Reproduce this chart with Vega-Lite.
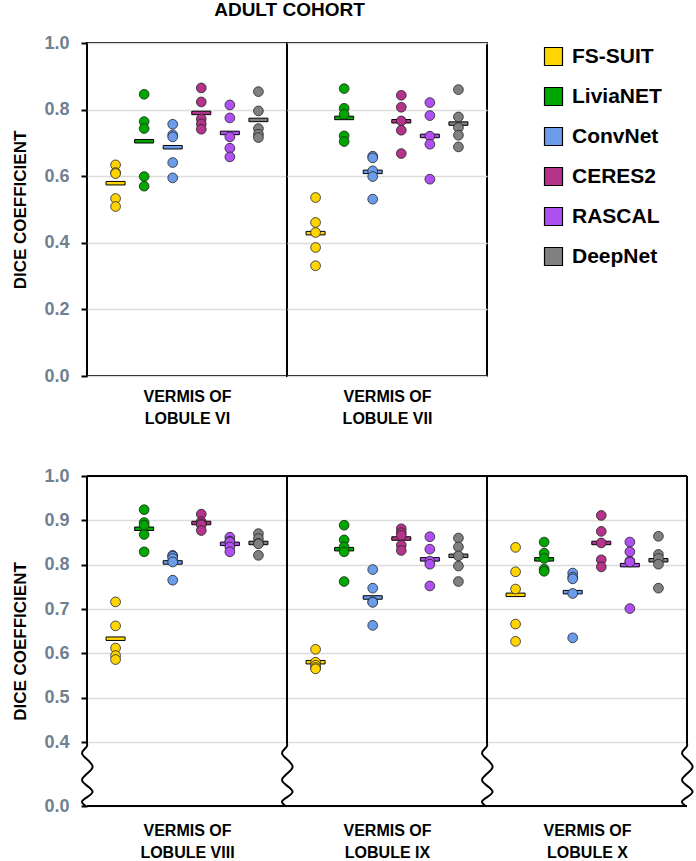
{
  "$schema": "https://vega.github.io/schema/vega-lite/v6.json",
  "padding": {"left": 10, "top": 1, "right": 5, "bottom": 3},
  "config": {
    "font": "Liberation Sans",
    "view": {"stroke": null},
    "axis": {"gridColor": "#dcdcdc", "gridWidth": 1.5, "domainColor": "black", "domainWidth": 2, "tickColor": "black", "tickWidth": 2, "labelFont": "Liberation Sans", "titleFont": "Liberation Sans"},
    "legend": {"labelFont": "Liberation Sans"},
    "title": {"font": "Liberation Sans"}
  },
  "datasets": {
    "pts": [
      {"region": "VI", "model": "FS-SUIT", "dice": 0.634}, {"region": "VI", "model": "FS-SUIT", "dice": 0.611}, {"region": "VI", "model": "FS-SUIT", "dice": 0.608}, {"region": "VI", "model": "FS-SUIT", "dice": 0.533}, {"region": "VI", "model": "FS-SUIT", "dice": 0.509},
      {"region": "VI", "model": "LiviaNET", "dice": 0.846}, {"region": "VI", "model": "LiviaNET", "dice": 0.764}, {"region": "VI", "model": "LiviaNET", "dice": 0.743}, {"region": "VI", "model": "LiviaNET", "dice": 0.599}, {"region": "VI", "model": "LiviaNET", "dice": 0.570},
      {"region": "VI", "model": "ConvNet", "dice": 0.756}, {"region": "VI", "model": "ConvNet", "dice": 0.724}, {"region": "VI", "model": "ConvNet", "dice": 0.718}, {"region": "VI", "model": "ConvNet", "dice": 0.641}, {"region": "VI", "model": "ConvNet", "dice": 0.595},
      {"region": "VI", "model": "CERES2", "dice": 0.865}, {"region": "VI", "model": "CERES2", "dice": 0.823}, {"region": "VI", "model": "CERES2", "dice": 0.772}, {"region": "VI", "model": "CERES2", "dice": 0.757}, {"region": "VI", "model": "CERES2", "dice": 0.741},
      {"region": "VI", "model": "RASCAL", "dice": 0.814}, {"region": "VI", "model": "RASCAL", "dice": 0.775}, {"region": "VI", "model": "RASCAL", "dice": 0.718}, {"region": "VI", "model": "RASCAL", "dice": 0.684}, {"region": "VI", "model": "RASCAL", "dice": 0.658},
      {"region": "VI", "model": "DeepNet", "dice": 0.854}, {"region": "VI", "model": "DeepNet", "dice": 0.796}, {"region": "VI", "model": "DeepNet", "dice": 0.743}, {"region": "VI", "model": "DeepNet", "dice": 0.726}, {"region": "VI", "model": "DeepNet", "dice": 0.716},
      {"region": "VII", "model": "FS-SUIT", "dice": 0.536}, {"region": "VII", "model": "FS-SUIT", "dice": 0.461}, {"region": "VII", "model": "FS-SUIT", "dice": 0.431}, {"region": "VII", "model": "FS-SUIT", "dice": 0.386}, {"region": "VII", "model": "FS-SUIT", "dice": 0.331},
      {"region": "VII", "model": "LiviaNET", "dice": 0.863}, {"region": "VII", "model": "LiviaNET", "dice": 0.804}, {"region": "VII", "model": "LiviaNET", "dice": 0.786}, {"region": "VII", "model": "LiviaNET", "dice": 0.721}, {"region": "VII", "model": "LiviaNET", "dice": 0.704},
      {"region": "VII", "model": "ConvNet", "dice": 0.660}, {"region": "VII", "model": "ConvNet", "dice": 0.655}, {"region": "VII", "model": "ConvNet", "dice": 0.616}, {"region": "VII", "model": "ConvNet", "dice": 0.599}, {"region": "VII", "model": "ConvNet", "dice": 0.531},
      {"region": "VII", "model": "CERES2", "dice": 0.843}, {"region": "VII", "model": "CERES2", "dice": 0.807}, {"region": "VII", "model": "CERES2", "dice": 0.766}, {"region": "VII", "model": "CERES2", "dice": 0.738}, {"region": "VII", "model": "CERES2", "dice": 0.668},
      {"region": "VII", "model": "RASCAL", "dice": 0.821}, {"region": "VII", "model": "RASCAL", "dice": 0.782}, {"region": "VII", "model": "RASCAL", "dice": 0.720}, {"region": "VII", "model": "RASCAL", "dice": 0.696}, {"region": "VII", "model": "RASCAL", "dice": 0.591},
      {"region": "VII", "model": "DeepNet", "dice": 0.860}, {"region": "VII", "model": "DeepNet", "dice": 0.778}, {"region": "VII", "model": "DeepNet", "dice": 0.746}, {"region": "VII", "model": "DeepNet", "dice": 0.723}, {"region": "VII", "model": "DeepNet", "dice": 0.688},
      {"region": "VIII", "model": "FS-SUIT", "dice": 0.716}, {"region": "VIII", "model": "FS-SUIT", "dice": 0.662}, {"region": "VIII", "model": "FS-SUIT", "dice": 0.612}, {"region": "VIII", "model": "FS-SUIT", "dice": 0.595}, {"region": "VIII", "model": "FS-SUIT", "dice": 0.586},
      {"region": "VIII", "model": "LiviaNET", "dice": 0.924}, {"region": "VIII", "model": "LiviaNET", "dice": 0.895}, {"region": "VIII", "model": "LiviaNET", "dice": 0.889}, {"region": "VIII", "model": "LiviaNET", "dice": 0.868}, {"region": "VIII", "model": "LiviaNET", "dice": 0.829},
      {"region": "VIII", "model": "ConvNet", "dice": 0.821}, {"region": "VIII", "model": "ConvNet", "dice": 0.819}, {"region": "VIII", "model": "ConvNet", "dice": 0.814}, {"region": "VIII", "model": "ConvNet", "dice": 0.806}, {"region": "VIII", "model": "ConvNet", "dice": 0.765},
      {"region": "VIII", "model": "CERES2", "dice": 0.914}, {"region": "VIII", "model": "CERES2", "dice": 0.897}, {"region": "VIII", "model": "CERES2", "dice": 0.892}, {"region": "VIII", "model": "CERES2", "dice": 0.890}, {"region": "VIII", "model": "CERES2", "dice": 0.877},
      {"region": "VIII", "model": "RASCAL", "dice": 0.862}, {"region": "VIII", "model": "RASCAL", "dice": 0.853}, {"region": "VIII", "model": "RASCAL", "dice": 0.851}, {"region": "VIII", "model": "RASCAL", "dice": 0.840}, {"region": "VIII", "model": "RASCAL", "dice": 0.829},
      {"region": "VIII", "model": "DeepNet", "dice": 0.870}, {"region": "VIII", "model": "DeepNet", "dice": 0.859}, {"region": "VIII", "model": "DeepNet", "dice": 0.848}, {"region": "VIII", "model": "DeepNet", "dice": 0.847}, {"region": "VIII", "model": "DeepNet", "dice": 0.821},
      {"region": "IX", "model": "FS-SUIT", "dice": 0.609}, {"region": "IX", "model": "FS-SUIT", "dice": 0.580}, {"region": "IX", "model": "FS-SUIT", "dice": 0.573}, {"region": "IX", "model": "FS-SUIT", "dice": 0.568}, {"region": "IX", "model": "FS-SUIT", "dice": 0.565},
      {"region": "IX", "model": "LiviaNET", "dice": 0.889}, {"region": "IX", "model": "LiviaNET", "dice": 0.856}, {"region": "IX", "model": "LiviaNET", "dice": 0.840}, {"region": "IX", "model": "LiviaNET", "dice": 0.829}, {"region": "IX", "model": "LiviaNET", "dice": 0.762},
      {"region": "IX", "model": "ConvNet", "dice": 0.789}, {"region": "IX", "model": "ConvNet", "dice": 0.747}, {"region": "IX", "model": "ConvNet", "dice": 0.716}, {"region": "IX", "model": "ConvNet", "dice": 0.715}, {"region": "IX", "model": "ConvNet", "dice": 0.663},
      {"region": "IX", "model": "CERES2", "dice": 0.881}, {"region": "IX", "model": "CERES2", "dice": 0.872}, {"region": "IX", "model": "CERES2", "dice": 0.866}, {"region": "IX", "model": "CERES2", "dice": 0.844}, {"region": "IX", "model": "CERES2", "dice": 0.832},
      {"region": "IX", "model": "RASCAL", "dice": 0.863}, {"region": "IX", "model": "RASCAL", "dice": 0.835}, {"region": "IX", "model": "RASCAL", "dice": 0.808}, {"region": "IX", "model": "RASCAL", "dice": 0.801}, {"region": "IX", "model": "RASCAL", "dice": 0.752},
      {"region": "IX", "model": "DeepNet", "dice": 0.860}, {"region": "IX", "model": "DeepNet", "dice": 0.840}, {"region": "IX", "model": "DeepNet", "dice": 0.820}, {"region": "IX", "model": "DeepNet", "dice": 0.797}, {"region": "IX", "model": "DeepNet", "dice": 0.762},
      {"region": "X", "model": "FS-SUIT", "dice": 0.839}, {"region": "X", "model": "FS-SUIT", "dice": 0.784}, {"region": "X", "model": "FS-SUIT", "dice": 0.745}, {"region": "X", "model": "FS-SUIT", "dice": 0.666}, {"region": "X", "model": "FS-SUIT", "dice": 0.627},
      {"region": "X", "model": "LiviaNET", "dice": 0.851}, {"region": "X", "model": "LiviaNET", "dice": 0.826}, {"region": "X", "model": "LiviaNET", "dice": 0.814}, {"region": "X", "model": "LiviaNET", "dice": 0.790}, {"region": "X", "model": "LiviaNET", "dice": 0.785},
      {"region": "X", "model": "ConvNet", "dice": 0.781}, {"region": "X", "model": "ConvNet", "dice": 0.772}, {"region": "X", "model": "ConvNet", "dice": 0.768}, {"region": "X", "model": "ConvNet", "dice": 0.735}, {"region": "X", "model": "ConvNet", "dice": 0.635},
      {"region": "X", "model": "CERES2", "dice": 0.911}, {"region": "X", "model": "CERES2", "dice": 0.875}, {"region": "X", "model": "CERES2", "dice": 0.849}, {"region": "X", "model": "CERES2", "dice": 0.811}, {"region": "X", "model": "CERES2", "dice": 0.795},
      {"region": "X", "model": "RASCAL", "dice": 0.851}, {"region": "X", "model": "RASCAL", "dice": 0.829}, {"region": "X", "model": "RASCAL", "dice": 0.808}, {"region": "X", "model": "RASCAL", "dice": 0.806}, {"region": "X", "model": "RASCAL", "dice": 0.701},
      {"region": "X", "model": "DeepNet", "dice": 0.864}, {"region": "X", "model": "DeepNet", "dice": 0.823}, {"region": "X", "model": "DeepNet", "dice": 0.814}, {"region": "X", "model": "DeepNet", "dice": 0.801}, {"region": "X", "model": "DeepNet", "dice": 0.747}
    ],
    "means": [
      {"region": "VI", "model": "FS-SUIT", "mean": 0.579}, {"region": "VI", "model": "LiviaNET", "mean": 0.705}, {"region": "VI", "model": "ConvNet", "mean": 0.687}, {"region": "VI", "model": "CERES2", "mean": 0.790}, {"region": "VI", "model": "RASCAL", "mean": 0.730}, {"region": "VI", "model": "DeepNet", "mean": 0.769},
      {"region": "VII", "model": "FS-SUIT", "mean": 0.429}, {"region": "VII", "model": "LiviaNET", "mean": 0.775}, {"region": "VII", "model": "ConvNet", "mean": 0.613}, {"region": "VII", "model": "CERES2", "mean": 0.765}, {"region": "VII", "model": "RASCAL", "mean": 0.721}, {"region": "VII", "model": "DeepNet", "mean": 0.758},
      {"region": "VIII", "model": "FS-SUIT", "mean": 0.633}, {"region": "VIII", "model": "LiviaNET", "mean": 0.881}, {"region": "VIII", "model": "ConvNet", "mean": 0.805}, {"region": "VIII", "model": "CERES2", "mean": 0.894}, {"region": "VIII", "model": "RASCAL", "mean": 0.847}, {"region": "VIII", "model": "DeepNet", "mean": 0.849},
      {"region": "IX", "model": "FS-SUIT", "mean": 0.580}, {"region": "IX", "model": "LiviaNET", "mean": 0.835}, {"region": "IX", "model": "ConvNet", "mean": 0.726}, {"region": "IX", "model": "CERES2", "mean": 0.859}, {"region": "IX", "model": "RASCAL", "mean": 0.812}, {"region": "IX", "model": "DeepNet", "mean": 0.820},
      {"region": "X", "model": "FS-SUIT", "mean": 0.732}, {"region": "X", "model": "LiviaNET", "mean": 0.812}, {"region": "X", "model": "ConvNet", "mean": 0.738}, {"region": "X", "model": "CERES2", "mean": 0.849}, {"region": "X", "model": "RASCAL", "mean": 0.799}, {"region": "X", "model": "DeepNet", "mean": 0.810}
    ],
    "wave": [
      {"side": "L", "i": 0, "xw": 0, "yv": 1.0}, {"side": "L", "i": 1, "xw": 0, "yv": 0.6}, {"side": "L", "i": 2, "xw": 0, "yv": 0.4}, {"side": "L", "i": 3, "xw": 0, "yv": 0.375}, {"side": "L", "i": 4, "xw": -0.025, "yv": 0.33}, {"side": "L", "i": 5, "xw": 0.028, "yv": 0.246}, {"side": "L", "i": 6, "xw": -0.025, "yv": 0.1625}, {"side": "L", "i": 7, "xw": 0.028, "yv": 0.089}, {"side": "L", "i": 8, "xw": -0.025, "yv": 0.027}, {"side": "L", "i": 9, "xw": -0.007, "yv": 0},
      {"side": "R", "i": 0, "xw": 1, "yv": 1.0}, {"side": "R", "i": 1, "xw": 1, "yv": 0.6}, {"side": "R", "i": 2, "xw": 1, "yv": 0.4}, {"side": "R", "i": 3, "xw": 1, "yv": 0.375}, {"side": "R", "i": 4, "xw": 0.975, "yv": 0.33}, {"side": "R", "i": 5, "xw": 1.028, "yv": 0.246}, {"side": "R", "i": 6, "xw": 0.975, "yv": 0.1625}, {"side": "R", "i": 7, "xw": 1.028, "yv": 0.089}, {"side": "R", "i": 8, "xw": 0.975, "yv": 0.027}, {"side": "R", "i": 9, "xw": 0.993, "yv": 0}
    ]
  },
  "vconcat": [
    {
      "hconcat": [
        {
          "width": 200, "height": 333,
          "view": {"stroke": "black", "strokeWidth": 2},
          "layer": [
            {"data": {"name": "means"}, "transform": [{"filter": "datum.region == 'VI'"}],
             "mark": {"type": "tick", "thickness": 3.5, "size": 19, "stroke": "black", "strokeWidth": 1, "opacity": 1, "filled": true},
             "encoding": {
               "x": {"field": "model", "type": "nominal", "scale": {"type": "point", "padding": 1.23, "domain": ["FS-SUIT", "LiviaNET", "ConvNet", "CERES2", "RASCAL", "DeepNet"]}, "axis": {"labels": false, "ticks": false, "domain": false, "grid": false, "title": ["VERMIS OF", "LOBULE VI"], "titleFontSize": 16, "titleFontWeight": "bold", "titleColor": "black", "titlePadding": 12, "titleLineHeight": 22}},
               "y": {"field": "mean", "type": "quantitative", "scale": {"domain": [0, 1], "nice": false}, "axis": {"values": [0, 0.2, 0.4, 0.6, 0.8, 1.0], "format": ".1f", "grid": true, "domain": false, "ticks": true, "tickSize": 6, "labelPadding": 12, "labelFontSize": 18, "labelFontWeight": "bold", "labelColor": "#708090", "labelFlush": false, "title": "DICE COEFFICIENT", "titleFontSize": 17, "titleFontWeight": "bold", "titleColor": "black", "titlePadding": 14}},
               "color": {"field": "model", "type": "nominal", "scale": {"domain": ["FS-SUIT", "LiviaNET", "ConvNet", "CERES2", "RASCAL", "DeepNet"], "range": ["#FFD400", "#00A600", "#6C9BEA", "#B3348A", "#B050F2", "#808080"]}}
             }},
            {"data": {"name": "pts"}, "transform": [{"filter": "datum.region == 'VI'"}],
             "mark": {"type": "circle", "size": 95, "stroke": "#222222", "strokeWidth": 0.8, "opacity": 1},
             "encoding": {
               "x": {"field": "model", "type": "nominal"},
               "y": {"field": "dice", "type": "quantitative"},
               "color": {"field": "model", "type": "nominal", "legend": {"orient": "none", "legendX": 456, "legendY": 3, "title": null, "symbolType": "square", "symbolSize": 324, "symbolStrokeColor": "black", "symbolStrokeWidth": 1.2, "symbolOpacity": 1, "labelFontSize": 21, "labelFontWeight": "bold", "labelColor": "black", "labelOffset": 8, "rowPadding": 17}}
             }}
          ]
        },
        {
          "width": 200, "height": 333,
          "view": {"stroke": "black", "strokeWidth": 2},
          "layer": [
            {"data": {"name": "means"}, "transform": [{"filter": "datum.region == 'VII'"}],
             "mark": {"type": "tick", "thickness": 3.5, "size": 19, "stroke": "black", "strokeWidth": 1, "opacity": 1, "filled": true},
             "encoding": {
               "x": {"field": "model", "type": "nominal", "scale": {"type": "point", "padding": 1.23, "domain": ["FS-SUIT", "LiviaNET", "ConvNet", "CERES2", "RASCAL", "DeepNet"]}, "axis": {"labels": false, "ticks": false, "domain": false, "grid": false, "title": ["VERMIS OF", "LOBULE VII"], "titleFontSize": 16, "titleFontWeight": "bold", "titleColor": "black", "titlePadding": 12, "titleLineHeight": 22}},
               "y": {"field": "mean", "type": "quantitative", "scale": {"domain": [0, 1], "nice": false}, "axis": {"values": [0, 0.2, 0.4, 0.6, 0.8, 1.0], "grid": true, "domain": false, "ticks": false, "labels": false, "title": null}},
               "color": {"field": "model", "type": "nominal"}
             }},
            {"data": {"name": "pts"}, "transform": [{"filter": "datum.region == 'VII'"}],
             "mark": {"type": "circle", "size": 95, "stroke": "#222222", "strokeWidth": 0.8, "opacity": 1},
             "encoding": {
               "x": {"field": "model", "type": "nominal"},
               "y": {"field": "dice", "type": "quantitative"},
               "color": {"field": "model", "type": "nominal"}
             }}
          ]
        }
      ],
      "spacing": 0,
      "bounds": "flush",
      "title": {"text": "ADULT COHORT", "fontSize": 19, "fontWeight": "bold", "color": "black", "anchor": "middle", "dx": 40, "offset": 13}
    },
    {
      "hconcat": [
        {
          "width": 200, "height": 330,
          "layer": [
            {"data": {"name": "means"}, "transform": [{"filter": "datum.region == 'VIII'"}],
             "mark": {"type": "tick", "thickness": 3.5, "size": 19, "stroke": "black", "strokeWidth": 1, "opacity": 1, "filled": true},
             "encoding": {
               "x": {"field": "model", "type": "nominal", "scale": {"type": "point", "padding": 1.23, "domain": ["FS-SUIT", "LiviaNET", "ConvNet", "CERES2", "RASCAL", "DeepNet"]}, "axis": {"labels": false, "ticks": false, "domain": false, "grid": false, "title": ["VERMIS OF", "LOBULE VIII"], "titleFontSize": 16, "titleFontWeight": "bold", "titleColor": "black", "titlePadding": 16, "titleLineHeight": 22}},
               "y": {"field": "mean", "type": "quantitative", "scale": {"domain": [0, 0.4, 1], "range": [330, 266, 0], "nice": false, "zero": false}, "axis": {"values": [0, 0.4, 0.5, 0.6, 0.7, 0.8, 0.9, 1.0], "format": ".1f", "grid": true, "domain": false, "ticks": true, "tickSize": 6, "labelPadding": 12, "labelFontSize": 18, "labelFontWeight": "bold", "labelColor": "#708090", "labelFlush": false, "title": "DICE COEFFICIENT", "titleFontSize": 17, "titleFontWeight": "bold", "titleColor": "black", "titlePadding": 14}},
               "color": {"field": "model", "type": "nominal"}
             }},
            {"data": {"name": "pts"}, "transform": [{"filter": "datum.region == 'VIII'"}],
             "mark": {"type": "circle", "size": 95, "stroke": "#222222", "strokeWidth": 0.8, "opacity": 1},
             "encoding": {
               "x": {"field": "model", "type": "nominal", "scale": {"type": "point", "padding": 1.23, "domain": ["FS-SUIT", "LiviaNET", "ConvNet", "CERES2", "RASCAL", "DeepNet"]}, "axis": null},
               "y": {"field": "dice", "type": "quantitative"},
               "color": {"field": "model", "type": "nominal"}
             }},
            {"data": {"name": "means"}, "mark": {"type": "rule", "stroke": "black", "strokeWidth": 2}, "encoding": {"y": {"datum": 1}}},
            {"data": {"name": "means"}, "mark": {"type": "rule", "stroke": "black", "strokeWidth": 2}, "encoding": {"y": {"datum": 0}}},
            {"data": {"name": "wave"}, "transform": [{"filter": "datum.side == 'L'"}],
             "mark": {"type": "line", "stroke": "black", "strokeWidth": 2, "interpolate": "catmull-rom"},
             "encoding": {
               "x": {"field": "xw", "type": "quantitative", "scale": {"domain": [0, 1], "nice": false, "zero": false}, "axis": null},
               "y": {"field": "yv", "type": "quantitative"},
               "order": {"field": "i", "type": "quantitative"},
               "detail": {"field": "side", "type": "nominal"}
             }}
          ],
          "resolve": {"scale": {"x": "independent"}}
        },
        {
          "width": 200, "height": 330,
          "layer": [
            {"data": {"name": "means"}, "transform": [{"filter": "datum.region == 'IX'"}],
             "mark": {"type": "tick", "thickness": 3.5, "size": 19, "stroke": "black", "strokeWidth": 1, "opacity": 1, "filled": true},
             "encoding": {
               "x": {"field": "model", "type": "nominal", "scale": {"type": "point", "padding": 1.23, "domain": ["FS-SUIT", "LiviaNET", "ConvNet", "CERES2", "RASCAL", "DeepNet"]}, "axis": {"labels": false, "ticks": false, "domain": false, "grid": false, "title": ["VERMIS OF", "LOBULE IX"], "titleFontSize": 16, "titleFontWeight": "bold", "titleColor": "black", "titlePadding": 16, "titleLineHeight": 22}},
               "y": {"field": "mean", "type": "quantitative", "scale": {"domain": [0, 0.4, 1], "range": [330, 266, 0], "nice": false, "zero": false}, "axis": {"values": [0, 0.4, 0.5, 0.6, 0.7, 0.8, 0.9, 1.0], "grid": true, "domain": false, "ticks": false, "labels": false, "title": null}},
               "color": {"field": "model", "type": "nominal"}
             }},
            {"data": {"name": "pts"}, "transform": [{"filter": "datum.region == 'IX'"}],
             "mark": {"type": "circle", "size": 95, "stroke": "#222222", "strokeWidth": 0.8, "opacity": 1},
             "encoding": {
               "x": {"field": "model", "type": "nominal", "scale": {"type": "point", "padding": 1.23, "domain": ["FS-SUIT", "LiviaNET", "ConvNet", "CERES2", "RASCAL", "DeepNet"]}, "axis": null},
               "y": {"field": "dice", "type": "quantitative"},
               "color": {"field": "model", "type": "nominal"}
             }},
            {"data": {"name": "means"}, "mark": {"type": "rule", "stroke": "black", "strokeWidth": 2}, "encoding": {"y": {"datum": 1}}},
            {"data": {"name": "means"}, "mark": {"type": "rule", "stroke": "black", "strokeWidth": 2}, "encoding": {"y": {"datum": 0}}},
            {"data": {"name": "wave"}, "transform": [{"filter": "datum.side == 'L'"}],
             "mark": {"type": "line", "stroke": "black", "strokeWidth": 2, "interpolate": "catmull-rom"},
             "encoding": {
               "x": {"field": "xw", "type": "quantitative", "scale": {"domain": [0, 1], "nice": false, "zero": false}, "axis": null},
               "y": {"field": "yv", "type": "quantitative"},
               "order": {"field": "i", "type": "quantitative"},
               "detail": {"field": "side", "type": "nominal"}
             }}
          ],
          "resolve": {"scale": {"x": "independent"}}
        },
        {
          "width": 200, "height": 330,
          "layer": [
            {"data": {"name": "means"}, "transform": [{"filter": "datum.region == 'X'"}],
             "mark": {"type": "tick", "thickness": 3.5, "size": 19, "stroke": "black", "strokeWidth": 1, "opacity": 1, "filled": true},
             "encoding": {
               "x": {"field": "model", "type": "nominal", "scale": {"type": "point", "padding": 1.23, "domain": ["FS-SUIT", "LiviaNET", "ConvNet", "CERES2", "RASCAL", "DeepNet"]}, "axis": {"labels": false, "ticks": false, "domain": false, "grid": false, "title": ["VERMIS OF", "LOBULE X"], "titleFontSize": 16, "titleFontWeight": "bold", "titleColor": "black", "titlePadding": 16, "titleLineHeight": 22}},
               "y": {"field": "mean", "type": "quantitative", "scale": {"domain": [0, 0.4, 1], "range": [330, 266, 0], "nice": false, "zero": false}, "axis": {"values": [0, 0.4, 0.5, 0.6, 0.7, 0.8, 0.9, 1.0], "grid": true, "domain": false, "ticks": false, "labels": false, "title": null}},
               "color": {"field": "model", "type": "nominal"}
             }},
            {"data": {"name": "pts"}, "transform": [{"filter": "datum.region == 'X'"}],
             "mark": {"type": "circle", "size": 95, "stroke": "#222222", "strokeWidth": 0.8, "opacity": 1},
             "encoding": {
               "x": {"field": "model", "type": "nominal", "scale": {"type": "point", "padding": 1.23, "domain": ["FS-SUIT", "LiviaNET", "ConvNet", "CERES2", "RASCAL", "DeepNet"]}, "axis": null},
               "y": {"field": "dice", "type": "quantitative"},
               "color": {"field": "model", "type": "nominal"}
             }},
            {"data": {"name": "means"}, "mark": {"type": "rule", "stroke": "black", "strokeWidth": 2}, "encoding": {"y": {"datum": 1}}},
            {"data": {"name": "means"}, "mark": {"type": "rule", "stroke": "black", "strokeWidth": 2}, "encoding": {"y": {"datum": 0}}},
            {"data": {"name": "wave"},
             "mark": {"type": "line", "stroke": "black", "strokeWidth": 2, "interpolate": "catmull-rom"},
             "encoding": {
               "x": {"field": "xw", "type": "quantitative", "scale": {"domain": [0, 1], "nice": false, "zero": false}, "axis": null},
               "y": {"field": "yv", "type": "quantitative"},
               "order": {"field": "i", "type": "quantitative"},
               "detail": {"field": "side", "type": "nominal"}
             }}
          ],
          "resolve": {"scale": {"x": "independent"}}
        }
      ],
      "spacing": 0,
      "bounds": "flush"
    }
  ],
  "spacing": 40
}
